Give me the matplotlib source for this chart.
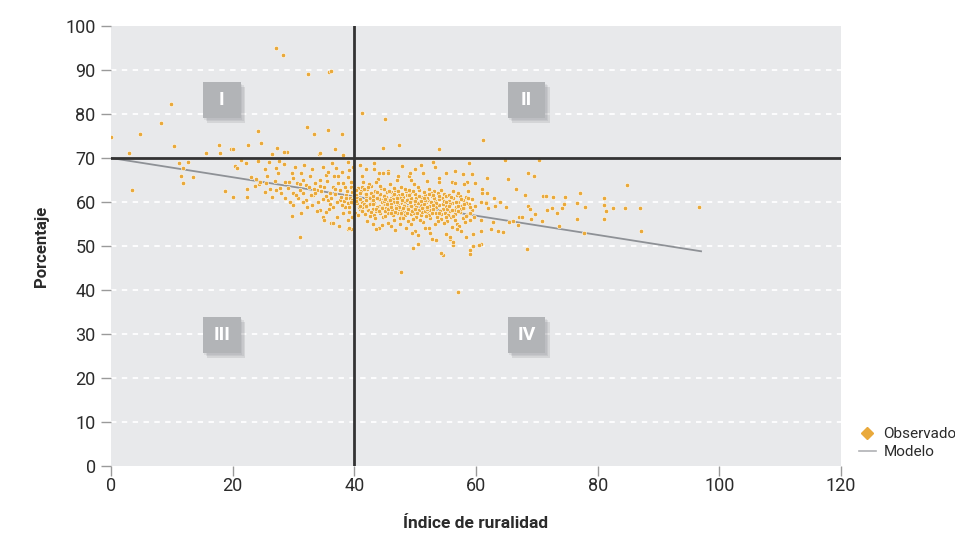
import matplotlib.pyplot as plt
import numpy as np
from matplotlib.patches import Rectangle
from matplotlib.lines import Line2D

plt.rcParams['font.family'] = ['Roboto', 'DejaVu Sans']

obs_upper = [
    (27.2, 94.9), (28.2, 93.3), (32.4, 89.1), (35.8, 89.5), (36.2, 89.7),
    (41.2, 80.3), (45.0, 78.8), (44.7, 72.3), (47.3, 73.0), (53.9, 72.0),
    (61.2, 74.0), (24.1, 76.2), (32.3, 77.0), (33.4, 75.5), (35.7, 76.3),
    (37.9, 75.5), (17.7, 73.0), (19.8, 72.1), (20.0, 72.0), (22.6, 72.9),
    (24.7, 73.4), (27.3, 72.3), (28.9, 71.3), (36.9, 72.0), (15.7, 71.1),
    (18.0, 71.1), (0.0, 74.8), (4.8, 75.4), (8.2, 77.9), (9.9, 82.3),
    (10.3, 72.7), (3.0, 71.1), (28.4, 71.4), (26.5, 70.8), (34.2, 70.9),
    (34.4, 71.1), (38.2, 70.6), (70.3, 69.5), (64.7, 69.5),
]
obs_left = [
    (3.4, 62.8), (11.2, 68.9), (12.6, 69.2), (11.9, 67.7), (11.5, 65.9),
    (13.5, 65.7), (11.8, 64.3), (18.7, 62.4), (20.0, 61.1), (22.4, 63.0),
    (22.4, 61.1), (20.4, 68.2), (20.7, 67.8), (21.4, 69.5), (22.2, 68.9),
    (23.0, 65.6), (23.9, 65.2), (24.4, 64.0), (25.3, 67.5), (25.3, 62.2),
    (24.1, 69.4), (23.6, 63.6), (25.3, 67.4), (27.2, 67.7), (27.5, 66.5),
    (25.5, 64.3), (24.5, 64.6), (27.2, 62.7), (27.8, 63.1), (28.0, 62.0),
    (26.4, 61.2), (29.5, 60.1), (29.9, 59.3), (29.7, 66.5), (29.9, 65.4),
    (30.5, 64.3), (31.3, 66.5), (31.6, 65.0), (32.1, 63.9), (32.7, 65.8),
    (33.5, 64.3), (33.8, 62.7), (34.3, 65.0), (35.1, 63.5), (35.4, 66.1),
    (35.7, 66.9), (36.0, 62.0), (36.5, 63.5), (37.3, 65.8), (37.6, 62.7),
    (38.1, 64.3), (38.7, 61.6), (39.0, 59.7), (39.2, 67.3), (39.5, 63.5),
    (32.1, 60.5), (33.0, 59.3), (34.3, 58.2), (35.4, 57.8), (36.5, 58.9),
    (37.6, 60.5), (38.1, 57.4), (39.0, 55.9), (34.9, 56.7), (33.2, 61.6),
    (31.6, 62.0), (30.8, 60.8), (29.1, 63.1), (28.6, 64.6), (29.9, 62.0),
    (31.0, 62.7), (35.7, 60.5), (37.1, 56.7), (36.2, 55.2), (38.4, 58.9),
    (39.2, 57.8), (39.8, 59.7), (39.0, 53.8), (39.5, 53.8), (37.8, 61.2),
    (38.3, 60.2), (38.8, 62.5), (39.3, 61.0), (39.6, 62.2), (39.1, 58.8),
    (38.5, 63.4), (37.2, 60.0), (36.8, 61.8), (36.0, 59.6), (35.3, 61.3),
    (34.6, 62.4), (34.0, 60.1), (33.4, 63.0), (32.8, 61.7), (32.3, 58.9),
    (31.5, 60.1), (30.4, 61.7), (29.3, 64.5), (28.6, 61.0), (27.0, 64.8),
    (26.2, 63.0), (25.6, 65.8), (39.7, 60.4), (39.4, 64.5), (38.0, 66.8),
    (37.0, 67.8), (36.4, 68.8), (34.8, 68.0), (33.0, 67.4), (31.8, 68.5),
    (30.2, 67.9), (28.5, 68.6), (27.6, 69.3), (26.0, 69.0), (39.8, 68.0),
    (38.9, 69.2), (35.5, 64.8), (33.9, 58.0), (31.2, 57.5), (35.0, 55.8),
    (37.5, 54.5), (39.6, 56.5), (29.8, 56.8),
    (33.6, 62.1), (34.8, 60.6), (36.1, 60.9), (36.9, 63.0), (37.9, 59.3),
    (38.6, 61.0), (39.4, 60.0), (35.8, 58.3), (34.4, 63.7), (32.6, 63.3),
    (31.0, 64.0), (37.4, 64.4), (38.9, 65.6), (36.6, 66.0), (39.9, 63.0),
    (39.9, 61.5),
]
obs_core = [
    (40.2, 61.5), (40.4, 59.8), (40.6, 63.2), (40.8, 60.7), (40.9, 58.3),
    (41.1, 62.4), (41.2, 60.1), (41.4, 64.6), (41.5, 58.9), (41.7, 61.8),
    (41.8, 57.2), (42.0, 60.5), (42.1, 62.9), (42.3, 59.4), (42.4, 61.1),
    (42.6, 56.8), (42.7, 63.7), (42.9, 60.2), (43.0, 58.5), (43.1, 61.9),
    (43.3, 59.7), (43.4, 62.6), (43.6, 57.9), (43.7, 60.9), (43.9, 65.3),
    (44.0, 59.1), (44.1, 61.4), (44.3, 58.2), (44.4, 63.1), (44.6, 60.4),
    (44.7, 56.5), (44.9, 59.6), (45.0, 61.7), (45.2, 58.7), (45.3, 62.3),
    (45.5, 60.0), (45.6, 57.4), (45.8, 59.3), (45.9, 64.0), (46.1, 61.0),
    (46.2, 58.1), (46.4, 60.6), (46.5, 55.9), (46.7, 62.8), (46.8, 59.0),
    (47.0, 57.6), (47.1, 60.3), (47.3, 61.6), (47.4, 58.4), (47.6, 63.5),
    (47.7, 56.9), (47.9, 59.8), (48.0, 61.2), (48.2, 57.8), (48.3, 60.1),
    (48.5, 62.4), (48.6, 58.8), (48.8, 55.6), (48.9, 60.7), (49.1, 59.2),
    (49.2, 62.0), (49.4, 57.3), (49.5, 60.4), (49.7, 58.5), (49.8, 64.2),
    (50.0, 59.5), (50.1, 56.7), (50.3, 61.3), (50.4, 58.0), (50.6, 60.0),
    (50.7, 62.7), (50.9, 57.1), (51.0, 59.3), (51.2, 60.9), (51.3, 55.4),
    (51.5, 58.6), (51.6, 61.7), (51.8, 59.9), (51.9, 57.5), (52.1, 60.5),
    (52.2, 63.0), (52.4, 58.2), (52.5, 56.3), (52.7, 59.6), (52.8, 61.4),
    (53.0, 57.8), (53.2, 60.2), (53.3, 54.9), (53.5, 58.9), (53.7, 62.1),
    (53.8, 57.0), (54.0, 59.4), (54.2, 56.1), (54.4, 60.8), (54.5, 58.3),
    (54.7, 61.9), (54.9, 57.4), (55.1, 59.1), (55.3, 55.7), (55.5, 60.3),
    (55.7, 58.0), (55.9, 56.6), (56.1, 59.7), (56.3, 62.5), (56.5, 57.2),
    (56.7, 58.8), (56.9, 55.0), (57.1, 60.1), (57.3, 57.7), (57.5, 59.2),
    (57.8, 56.4), (58.0, 58.6), (58.3, 61.0), (58.5, 57.0), (58.8, 59.5),
    (59.1, 55.8), (59.4, 58.1),
    (40.1, 57.6), (40.3, 62.8), (40.5, 61.0), (40.7, 58.9), (41.0, 60.6),
    (41.3, 63.3), (41.6, 59.5), (41.9, 61.3), (42.2, 58.1), (42.5, 60.9),
    (42.8, 62.1), (43.2, 57.0), (43.5, 60.8), (43.8, 58.8), (44.2, 61.9),
    (44.5, 59.9), (44.8, 62.9), (45.1, 57.9), (45.4, 60.8), (45.7, 59.0),
    (46.0, 62.2), (46.3, 57.1), (46.6, 60.1), (46.9, 61.4), (47.2, 59.3),
    (47.5, 56.4), (47.8, 61.9), (48.1, 59.4), (48.4, 57.1), (48.7, 61.6),
    (49.0, 58.1), (49.3, 60.9), (49.6, 56.2), (49.9, 61.8), (50.2, 58.9),
    (50.5, 63.5), (50.8, 60.3), (51.1, 57.7), (51.4, 62.2), (51.7, 58.0),
    (52.0, 61.0), (52.3, 57.0), (52.6, 60.0), (52.9, 58.5), (53.1, 62.4),
    (53.4, 59.8), (53.6, 56.5), (53.9, 60.6), (54.1, 58.0), (54.3, 62.8),
    (54.6, 59.6), (54.8, 55.3), (55.0, 61.3), (55.2, 58.5), (55.4, 57.1),
    (55.6, 61.7), (55.8, 59.5), (56.0, 54.4), (56.2, 60.8), (56.4, 58.2),
    (56.6, 56.0), (56.8, 61.5), (57.0, 59.0), (57.2, 54.6), (57.4, 61.3),
    (57.6, 58.3), (57.9, 60.4), (58.2, 55.4), (58.4, 59.8), (58.7, 62.4),
    (59.0, 57.4), (59.3, 60.7), (59.6, 56.6), (59.9, 59.0),
    (42.0, 58.8), (42.6, 59.6), (43.0, 61.3), (43.5, 58.4), (44.0, 60.7),
    (44.3, 57.4), (44.8, 60.2), (45.2, 61.2), (45.6, 58.3), (46.0, 59.6),
    (46.3, 61.6), (46.7, 57.8), (47.0, 59.9), (47.5, 60.9), (47.8, 58.1),
    (48.2, 59.1), (48.6, 60.5), (49.0, 61.6), (49.4, 59.0), (49.8, 57.4),
    (50.2, 60.8), (50.6, 58.2), (51.0, 61.2), (51.4, 59.6), (51.8, 56.9),
    (52.2, 59.2), (52.6, 62.0), (53.0, 59.4), (44.6, 58.9), (45.9, 60.5),
    (47.3, 58.9), (48.8, 58.4), (50.4, 59.8), (51.6, 60.5), (43.8, 62.2),
    (46.6, 63.2), (49.6, 62.6), (45.0, 56.8), (48.0, 56.3), (50.8, 55.9),
    (42.4, 64.0), (44.0, 66.5), (47.0, 65.0), (49.0, 66.0), (52.0, 64.8),
    (42.0, 67.5), (45.5, 67.0), (50.0, 67.5), (54.0, 65.5), (56.0, 64.5),
    (43.0, 55.0), (46.0, 54.5), (50.0, 53.5), (52.5, 53.0), (55.0, 52.8),
    (57.5, 53.5), (41.2, 66.0), (41.0, 68.5), (43.2, 68.8), (47.8, 68.2),
    (53.0, 69.0), (56.5, 67.0), (58.5, 64.5), (44.0, 54.0), (48.5, 54.0),
    (58.3, 52.0), (59.5, 52.8), (55.8, 51.5),
    (51.0, 68.4), (51.3, 66.5), (53.3, 68.0), (53.9, 64.6), (58.8, 68.9),
    (57.9, 66.4), (59.4, 66.4), (43.3, 67.4), (44.7, 66.5), (49.1, 66.7),
    (49.4, 65.0), (45.6, 66.7), (47.2, 65.8), (43.6, 64.6), (55.1, 66.5),
    (56.5, 64.3), (58.0, 64.1), (59.8, 64.3), (58.4, 61.2),
    (40.3, 60.3), (40.6, 57.0), (40.9, 62.0), (41.3, 58.0), (41.6, 62.9),
    (41.9, 59.0), (42.3, 63.4), (42.7, 57.8), (43.1, 60.4), (43.4, 56.3),
    (43.8, 61.0), (44.2, 63.6), (44.5, 58.6), (44.9, 61.3), (45.3, 59.5),
    (45.7, 62.6), (46.1, 57.5), (46.5, 61.9), (46.8, 58.6), (47.2, 62.4),
    (47.6, 57.4), (47.9, 60.5), (48.3, 63.0), (48.7, 57.6), (49.1, 60.0),
    (49.5, 58.0), (49.9, 60.2), (50.3, 57.4), (50.7, 61.4), (51.1, 58.6),
    (51.5, 60.9), (51.9, 58.5), (52.3, 61.8), (52.7, 57.4), (53.1, 60.9),
    (53.5, 57.5), (53.9, 61.3), (54.3, 57.2), (54.7, 60.2), (55.1, 56.5),
    (55.5, 59.0), (55.9, 61.2), (56.3, 56.9), (56.7, 60.0), (57.1, 57.9),
    (57.5, 60.6), (57.9, 58.6), (58.3, 56.9), (58.7, 60.9), (59.1, 58.9),
    (41.0, 59.2), (42.0, 61.8), (43.0, 59.6), (44.0, 58.0), (45.0, 60.6),
    (46.0, 58.8), (47.0, 61.0), (48.0, 58.6), (49.0, 62.8), (50.0, 58.3),
    (51.0, 60.2), (52.0, 58.9), (53.0, 61.6), (54.0, 57.6), (55.0, 60.1),
    (56.0, 58.1), (57.0, 62.0), (58.0, 59.6), (45.5, 55.2), (47.5, 55.0),
    (49.3, 55.0), (51.6, 54.0), (53.7, 55.7), (42.1, 55.7), (56.9, 53.8),
]
obs_right = [
    (61.0, 63.0), (61.8, 65.4), (60.9, 60.1), (61.6, 59.9), (61.8, 62.1),
    (62.0, 58.7), (63.0, 60.8), (63.1, 59.2), (64.0, 60.0), (64.9, 58.9),
    (62.8, 55.5), (62.5, 53.8), (63.6, 53.3), (64.5, 53.1), (60.9, 55.9),
    (60.9, 53.3), (60.8, 50.5), (65.5, 55.5), (66.1, 55.7), (67.0, 56.7),
    (67.6, 56.7), (68.5, 66.5), (69.6, 66.0), (65.2, 65.2), (66.5, 63.0),
    (68.1, 61.6), (68.6, 59.2), (68.9, 58.3), (69.7, 57.3), (69.1, 56.1),
    (70.9, 55.7), (66.9, 54.8), (68.4, 49.4), (71.1, 61.4), (71.5, 61.4),
    (72.6, 61.1), (74.7, 61.1), (71.6, 58.2), (72.5, 58.7), (73.3, 57.6),
    (74.2, 58.6), (74.4, 59.5), (73.6, 54.6), (76.6, 56.1), (76.6, 59.7),
    (77.1, 62.0), (78.0, 58.9), (77.7, 53.0), (81.0, 60.8), (81.0, 59.4),
    (81.3, 57.9), (81.1, 56.1), (82.6, 58.6), (84.5, 58.7), (84.9, 63.9),
    (86.9, 58.7), (87.2, 53.3), (96.7, 58.9), (61.0, 62.0), (61.7, 59.7),
]
obs_low = [
    (47.7, 44.0), (57.0, 39.6), (54.5, 48.0), (49.6, 49.5), (50.4, 50.4),
    (59.1, 48.1), (59.1, 49.1), (59.5, 50.0), (60.5, 50.3), (56.3, 50.2),
    (56.2, 51.0), (52.7, 51.7), (53.5, 51.4), (50.5, 52.5), (46.7, 53.6),
    (36.5, 55.2), (39.2, 54.0), (31.0, 52.0), (43.6, 53.8), (44.5, 54.8),
    (49.5, 52.9), (52.3, 54.0), (55.7, 52.1), (54.3, 48.3),
]

# fitted model line
model_x = [0, 97]
model_y = [70, 48.8]

# quadrant markers: label, x, y
quad_labels = ['I', 'II', 'III', 'IV']
quad_x = [18.2, 68.3, 18.2, 68.3]
quad_y = [83.2, 83.2, 29.8, 29.8]

obs = np.array(obs_upper + obs_left + obs_core + obs_right + obs_low)

fig = plt.figure(figsize=(9.55, 5.35), dpi=100)
ax = fig.add_axes([0.1162, 0.129, 0.7644, 0.8224])
ax.set_facecolor('#E8E9EB')

for y in range(10, 100, 10):
    if y != 70:
        ax.axhline(y, color='white', lw=1.3, ls=(0, (3, 3)), zorder=1)

ax.plot(model_x, model_y, color='#8E9196', lw=1.3, zorder=2)
ax.scatter(obs[:, 0], obs[:, 1], s=10, color='#E9A93B',
           edgecolors='white', linewidths=0.4, zorder=3)

ax.axhline(70, color='#333333', lw=2, zorder=4)
ax.axvline(40, color='#333333', lw=2, zorder=4)

# grey boxes with a soft shadow
bw, bh = 6.2, 8.2
for lab, qx, qy in zip(quad_labels, quad_x, quad_y):
    for k, a in enumerate([0.10, 0.12, 0.16]):
        d = 0.25 * (k + 1)
        ax.add_patch(Rectangle((qx - bw / 2 + d, qy - bh / 2 - 1.6 * d), bw, bh,
                               color='#6E7074', alpha=a, lw=0, zorder=5))
    ax.add_patch(Rectangle((qx - bw / 2, qy - bh / 2), bw, bh,
                           color='#B2B4B7', lw=0, zorder=6))
    ax.text(qx, qy, lab, color='white', fontsize=14, fontweight='bold',
            ha='center', va='center', zorder=7)

ax.set_xlim(0, 120)
ax.set_ylim(0, 100)
ax.set_xticks(np.arange(0, 121, 20))
ax.set_yticks(np.arange(0, 101, 10))
for s in ax.spines.values():
    s.set_visible(False)
ax.tick_params(axis='both', colors='#9A9A9A', labelcolor='#2B2B2B',
               labelsize=13, length=7, width=1)
ax.tick_params(axis='y', pad=4)
ax.tick_params(axis='x', pad=1)

ax.set_xlabel('Índice de ruralidad', fontsize=12.5, fontweight='bold',
              color='#2B2B2B', labelpad=15)
ax.set_ylabel('Porcentaje', fontsize=12, fontweight='bold',
              color='#2B2B2B', labelpad=12)

handles = [
    Line2D([], [], marker='D', ls='none', color='#E9A93B', markersize=6),
    Line2D([], [], color='#B0B2B5', lw=1.2),
]
ax.legend(handles, ['Observado', 'Modelo'], loc='lower left',
          bbox_to_anchor=(1.012, -0.005), frameon=False, fontsize=11,
          handlelength=1.1, handletextpad=0.5, labelspacing=0.25,
          labelcolor='#2B2B2B', borderaxespad=0.2)

fig.savefig('out.png', dpi=100)
